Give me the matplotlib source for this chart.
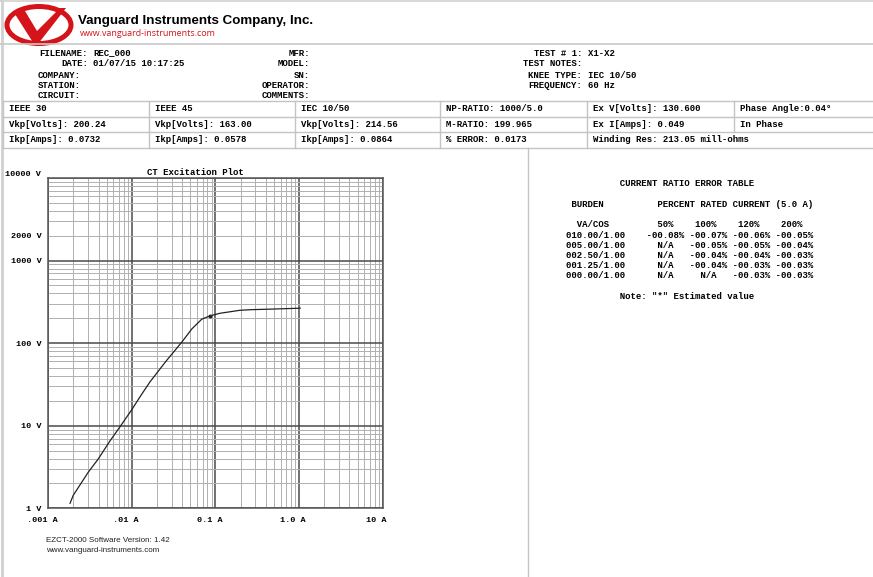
"""CT excitation test report page (Vanguard EZCT-2000 style)."""

import matplotlib
matplotlib.use("Agg")
import matplotlib.pyplot as plt
from matplotlib.lines import Line2D
from matplotlib.patches import Ellipse, Polygon
from matplotlib.ticker import LogLocator, FuncFormatter, NullFormatter
from matplotlib.transforms import ScaledTranslation

# ---- data ----
exc_current = [0.00182, 0.00199, 0.00301, 0.00396, 0.00547, 0.00755, 0.00995,
               0.0125, 0.0165, 0.0261, 0.0394, 0.0519, 0.0684, 0.0864,
               0.113, 0.196, 0.26, 0.5, 1.03]
exc_voltage = [1.15, 1.44, 2.74, 3.96, 6.55, 10.4, 15.6,
               22.4, 34.1, 62.0, 102.5, 148, 195, 214.56,
               230, 250, 254, 259, 265]
knee_i = 0.0864
knee_v = 214.56

x_ticks = [0.001, 0.01, 0.1, 1.0, 10]
x_tick_labels = [".001 A", ".01 A", "0.1 A", "1.0 A", "10 A"]
y_ticks = [1, 10, 100, 1000, 10000]
y_tick_labels = ["1 V", "10 V", "100 V", "1000 V", "10000 V"]

header_left = [("FILENAME:", "REC_000"), ("DATE:", "01/07/15 10:17:25"),
               ("COMPANY:", ""), ("STATION:", ""), ("CIRCUIT:", "")]
header_mid = ["MFR:", "MODEL:", "SN:", "OPERATOR:", "COMMENTS:"]
header_right = [("TEST # 1:", "X1-X2"), ("TEST NOTES:", ""),
                ("KNEE TYPE:", "IEC 10/50"), ("FREQUENCY:", "60 Hz")]

summary_rows = [
    ["IEEE 30", "IEEE 45", "IEC 10/50", "NP-RATIO: 1000/5.0",
     "Ex V[Volts]: 130.600", "Phase Angle:0.04\u00b0"],
    ["Vkp[Volts]: 200.24", "Vkp[Volts]: 163.00", "Vkp[Volts]: 214.56",
     "M-RATIO: 199.965", "Ex I[Amps]: 0.049", "In Phase"],
    ["Ikp[Amps]: 0.0732", "Ikp[Amps]: 0.0578", "Ikp[Amps]: 0.0864",
     "% ERROR: 0.0173", "Winding Res: 213.05 mill-ohms", ""],
]

ratio_lines = [
    "          CURRENT RATIO ERROR TABLE",
    "",
    " BURDEN          PERCENT RATED CURRENT (5.0 A)",
    "",
    "  VA/COS         50%    100%    120%    200%",
    "010.00/1.00    -00.08% -00.07% -00.06% -00.05%",
    "005.00/1.00      N/A   -00.05% -00.05% -00.04%",
    "002.50/1.00      N/A   -00.04% -00.04% -00.03%",
    "001.25/1.00      N/A   -00.04% -00.03% -00.03%",
    "000.00/1.00      N/A     N/A   -00.03% -00.03%",
    "",
    "          Note: \"*\" Estimated value",
]

W, H = 873, 577
MONO = {"family": "Liberation Mono", "weight": "bold", "size": 6.5}
LINE = "#c4c4c4"
RED = "#d4131b"

plt.rcParams["font.family"] = ["Liberation Mono", "DejaVu Sans Mono"]
plt.rcParams["font.weight"] = "bold"
plt.rcParams["font.size"] = 6.5

fig = plt.figure(figsize=(W / 100, H / 100), dpi=100, facecolor="white")

page = fig.add_axes([0, 0, 1, 1], zorder=0)
page.set_xlim(0, W)
page.set_ylim(H, 0)
page.axis("off")


def hline(y, x0=0, x1=W, color=LINE, lw=1.0):
    page.add_line(Line2D([x0, x1], [y, y], color=color, lw=lw))


def vline(x, y0, y1, color=LINE, lw=1.0):
    page.add_line(Line2D([x, x], [y0, y1], color=color, lw=lw))


# page frame
hline(1, color="#d8d8d8", lw=1.5)
vline(2, 0, H, color="#d0d0d0", lw=2.0)
hline(44, color="#c8c8c8", lw=1.2)

# logo
page.add_patch(Ellipse((39, 25), 64, 37, fill=False, ec=RED, lw=3.6))
page.add_patch(Polygon([(13, 11), (25, 11), (37, 31), (60, 8), (66, 8), (38, 44), (34, 44)],
                       closed=True, fc=RED, ec="none"))
page.text(78, 21, "Vanguard Instruments Company, Inc.", family="Liberation Sans",
          weight="bold", size=9.6, va="center", ha="left", color="black")
page.text(80, 34, "www.vanguard-instruments.com", family="Open Sans",
          weight="normal", size=6.4, va="center", ha="left", color=RED)

# header fields
row_y = [53, 64, 75, 86, 96]
for (label, value), y in zip(header_left, row_y):
    right = 88 if label in ("FILENAME:", "DATE:") else 81
    page.text(right, y, label, ha="right", va="center", **MONO)
    if value:
        page.text(93, y, value, ha="left", va="center", **MONO)
for label, y in zip(header_mid, row_y):
    page.text(310, y, label, ha="right", va="center", **MONO)
for (label, value), y in zip(header_right, row_y):
    page.text(582, y, label, ha="right", va="center", **MONO)
    if value:
        page.text(588, y, value, ha="left", va="center", **MONO)

# summary grid
grid_y = [101, 116.5, 132, 147.5]
col_x = [3, 149, 295, 440, 587, 734, W]
for y in grid_y:
    hline(y, 3, W)
vline(3, grid_y[0], grid_y[-1])
for x in col_x[1:-1]:
    vline(x, grid_y[0], grid_y[2])
for x in col_x[1:5]:
    vline(x, grid_y[2], grid_y[3])
for r, cells in enumerate(summary_rows):
    yc = (grid_y[r] + grid_y[r + 1]) / 2
    for c, txt in enumerate(cells):
        if txt:
            page.text(col_x[c] + 6, yc, txt, ha="left", va="center", **MONO)

vline(528, grid_y[-1], H)

# ratio error table
for i, line in enumerate(ratio_lines):
    if line:
        page.text(566, 184 + i * 10.2, line, ha="left", va="center", **MONO)

# footer
page.text(46, 541, "EZCT-2000 Software Version: 1.42", family="Liberation Sans",
          weight="normal", size=5.8, ha="left", va="center", color="#222222")
page.text(46, 550, "www.vanguard-instruments.com", family="Liberation Sans",
          weight="normal", size=5.8, ha="left", va="center", color="#222222")

# excitation plot
left, right, top, bottom = 48.3, 382.7, 178, 508.3
ax = fig.add_axes([left / W, 1 - bottom / H, (right - left) / W, (bottom - top) / H], zorder=2)
ax.set_xscale("log")
ax.set_yscale("log")
ax.set_xlim(0.001, 10)
ax.set_ylim(1, 10000)

ax.set_xticks(x_ticks, x_tick_labels)
ax.set_yticks(y_ticks, y_tick_labels)
ax.xaxis.set_minor_locator(LogLocator(base=10, subs=range(2, 10), numticks=20))
ax.yaxis.set_minor_locator(LogLocator(base=10, subs=range(2, 10), numticks=20))
ax.xaxis.set_minor_formatter(NullFormatter())
ax.yaxis.set_minor_formatter(FuncFormatter(lambda v, _: "2000 V" if abs(v - 2000) < 1 else ""))
ax.tick_params(which="both", length=0, labelsize=6.1, colors="black")
ax.tick_params(axis="y", which="both", pad=5)
ax.tick_params(axis="x", pad=6)
for lab in ax.get_xticklabels():
    lab.set_transform(lab.get_transform() + ScaledTranslation(-0.06, 0, fig.dpi_scale_trans))
ax.get_yticklabels()[-1].set_va("bottom")

ax.grid(which="major", color="#4a4a4a", lw=1.1)
ax.grid(which="minor", color="#b0b0b0", lw=0.7)
ax.set_axisbelow(True)
for sp in ax.spines.values():
    sp.set_color("#555555")
    sp.set_linewidth(1.1)

ax.plot(exc_current, exc_voltage, color="#222222", lw=0.9)
ax.plot([knee_i], [knee_v], "o", color="#222222", ms=1.8)

page.text(195, 172.5, "CT Excitation Plot", ha="center", va="center", **MONO)

fig.savefig("out.png", dpi=100, facecolor="white")
